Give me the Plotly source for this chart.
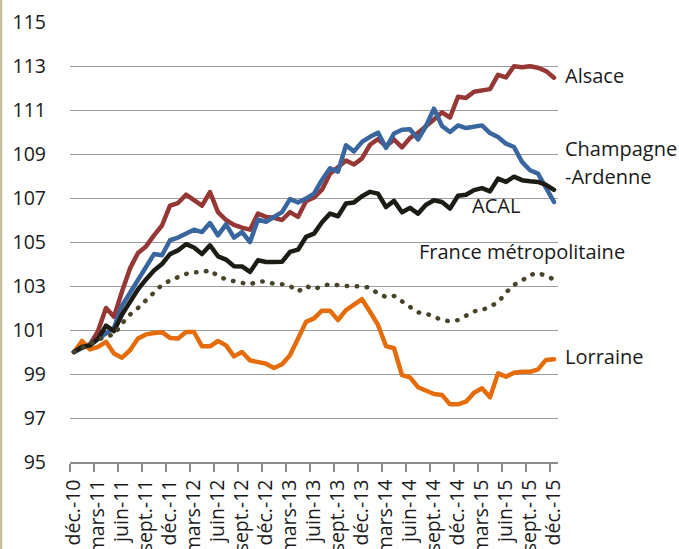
import plotly.graph_objects as go

tick_labels = ["déc.-10", "mars-11", "juin-11", "sept.-11", "déc.-11", "mars-12", "juin-12",
               "sept.-12", "déc.-12", "mars-13", "juin-13", "sept.-13", "déc.-13", "mars-14",
               "juin-14", "sept.-14", "déc.-14", "mars-15", "juin-15", "sept.-15", "déc.-15"]

alsace = [100.0, 100.25, 100.35, 100.95, 102.0, 101.6, 102.75, 103.8, 104.5, 104.8,
          105.3, 105.75, 106.65, 106.77, 107.15, 106.92, 106.65, 107.27, 106.36, 106.0,
          105.78, 105.65, 105.56, 106.29, 106.14, 106.1, 106.0, 106.36, 106.14, 106.85,
          107.02, 107.38, 108.1, 108.4, 108.7, 108.52, 108.8, 109.42, 109.68, 109.35,
          109.66, 109.3, 109.73, 109.96, 110.3, 110.57, 110.89, 110.66, 111.6, 111.55,
          111.83, 111.9, 111.95, 112.6, 112.48, 112.99, 112.94, 112.99, 112.92, 112.77, 112.47]

champagne = [100.0, 100.15, 100.35, 100.6, 100.85, 101.1, 102.1, 102.7, 103.3, 103.85,
             104.45, 104.4, 105.08, 105.2, 105.38, 105.56, 105.45, 105.86, 105.3, 105.8,
             105.2, 105.45, 105.0, 106.02, 105.92, 106.14, 106.36, 106.95, 106.8, 106.97,
             107.2, 107.82, 108.35, 108.2, 109.4, 109.12, 109.55, 109.78, 109.97, 109.28,
             109.93, 110.1, 110.13, 109.66, 110.27, 111.06, 110.27, 110.0, 110.3, 110.18,
             110.23, 110.3, 109.95, 109.77, 109.47, 109.32, 108.64, 108.26, 108.11, 107.5, 106.82]

lorraine = [100.0, 100.5, 100.12, 100.23, 100.46, 99.93, 99.74, 100.08, 100.61, 100.8,
            100.86, 100.9, 100.64, 100.61, 100.91, 100.91, 100.26, 100.26, 100.5, 100.3,
            99.8, 100.0, 99.62, 99.52, 99.47, 99.27, 99.44, 99.85, 100.65, 101.37,
            101.53, 101.88, 101.88, 101.45, 101.9, 102.15, 102.4, 101.83, 101.23, 100.27,
            100.17, 98.95, 98.85, 98.4, 98.24, 98.09, 98.05, 97.62, 97.62, 97.74,
            98.15, 98.35, 97.94, 99.03, 98.88, 99.06, 99.1, 99.1, 99.21, 99.64, 99.67]

acal = [100.0, 100.23, 100.3, 100.6, 101.2, 100.95, 101.7, 102.3, 102.85, 103.3,
        103.7, 104.0, 104.45, 104.62, 104.9, 104.75, 104.45, 104.85, 104.35, 104.2,
        103.9, 103.89, 103.64, 104.17, 104.09, 104.09, 104.1, 104.55, 104.65, 105.23,
        105.38, 105.9, 106.29, 106.17, 106.75, 106.8, 107.08, 107.28, 107.2, 106.59,
        106.87, 106.35, 106.55, 106.29, 106.69, 106.9, 106.82, 106.52, 107.1, 107.15,
        107.36, 107.45, 107.3, 107.88, 107.73, 107.97, 107.81, 107.76, 107.73, 107.6, 107.37]

france = [100.0, 100.2, 100.35, 100.55, 100.72, 100.78, 101.3, 101.7, 102.0, 102.35,
          102.7, 103.05, 103.25, 103.4, 103.55, 103.62, 103.62, 103.72, 103.45, 103.3,
          103.2, 103.14, 103.08, 103.2, 103.2, 103.1, 103.08, 103.0, 102.75, 103.0,
          102.85, 103.0, 103.08, 103.02, 103.0, 103.0, 102.95, 102.93, 102.65, 102.5,
          102.55, 102.3, 102.0, 101.8, 101.75, 101.6, 101.45, 101.4, 101.45, 101.65,
          101.85, 101.9, 102.1, 102.25, 102.7, 103.05, 103.25, 103.5, 103.6, 103.45, 103.3]

x = list(range(len(alsace)))
tick_step = 3
tickvals = x[::tick_step]
boundaries = [v - 0.5 for v in tickvals]

fig = go.Figure()
LW = 4.5
fig.add_trace(go.Scatter(x=x, y=alsace, mode="lines", name="Alsace",
                         line=dict(color="#953735", width=LW)))
fig.add_trace(go.Scatter(x=x, y=champagne, mode="lines", name="Champagne-Ardenne",
                         line=dict(color="#3a66a0", width=LW)))
fig.add_trace(go.Scatter(x=x, y=lorraine, mode="lines", name="Lorraine",
                         line=dict(color="#E46C0A", width=LW)))
fig.add_trace(go.Scatter(x=x, y=acal, mode="lines", name="ACAL",
                         line=dict(color="#1c1c14", width=LW)))
fig.add_trace(go.Scatter(x=x, y=france, mode="lines", name="France métropolitaine",
                         line=dict(color="#494429", width=4.5, dash="0.5px,9.5px")))

txt = dict(family="Open Sans", size=20, color="#1a1a1a")
# (text, paper x of left edge, y value of centre)
labels = [
    ("Alsace", 1.0109, 112.58),
    ("Champagne", 1.0102, 109.26),
    ("-Ardenne", 1.0102, 107.99),
    ("ACAL", 0.8197, 106.64),
    ("France métropolitaine", 0.7117, 104.55),
    ("Lorraine", 1.0109, 99.8),
]
for t, ax_, ay_ in labels:
    fig.add_annotation(x=ax_, y=ay_, xref="paper", yref="y", text=t, showarrow=False,
                       xanchor="left", yanchor="middle", font=txt)

# left page border
fig.add_shape(type="line", xref="paper", yref="paper",
              x0=(1 - 70) / 488, x1=(1 - 70) / 488, y0=-0.3, y1=1.1,
              line=dict(color="#c8bd96", width=2.5))

fig.update_layout(
    width=679, height=549,
    margin=dict(l=70, r=121, t=21.7, b=86.7, pad=0),
    plot_bgcolor="white", paper_bgcolor="white",
    showlegend=False, hovermode=False,
    font=dict(family="Open Sans", size=19.5, color="#1a1a1a"),
)
fig.update_xaxes(
    range=[-0.5, 60.5], tickmode="array", tickvals=tickvals, ticktext=tick_labels,
    tickangle=-90, showgrid=False, zeroline=False,
    showline=True, linecolor="#8c8c8c", linewidth=1.5,
    ticks="outside", ticklen=8, tickcolor="rgba(0,0,0,0)",
    minor=dict(tickmode="array", tickvals=boundaries, ticks="outside", ticklen=8,
               tickcolor="#8c8c8c", tickwidth=1.5, showgrid=False),
    automargin=False,
)
fig.update_yaxes(
    range=[95, 115], tickmode="array", tickvals=list(range(95, 116, 2)),
    showgrid=True, gridcolor="#9c9c9c", gridwidth=1.4, zeroline=False,
    showline=False, ticks="", ticklabelstandoff=23, automargin=False,
)

post = """
document.body.style.margin='0px';
var gd=document.getElementById('{plot_id}');
function fixCaps(){
  gd.querySelectorAll('.scatterlayer .trace path.js-line').forEach(function(p){
    p.style.strokeLinecap='round'; p.style.strokeLinejoin='round';
  });
}
fixCaps();
gd.on('plotly_afterplot', fixCaps);
"""
fig.write_html("out.html", post_script=post, config={"displayModeBar": False})
